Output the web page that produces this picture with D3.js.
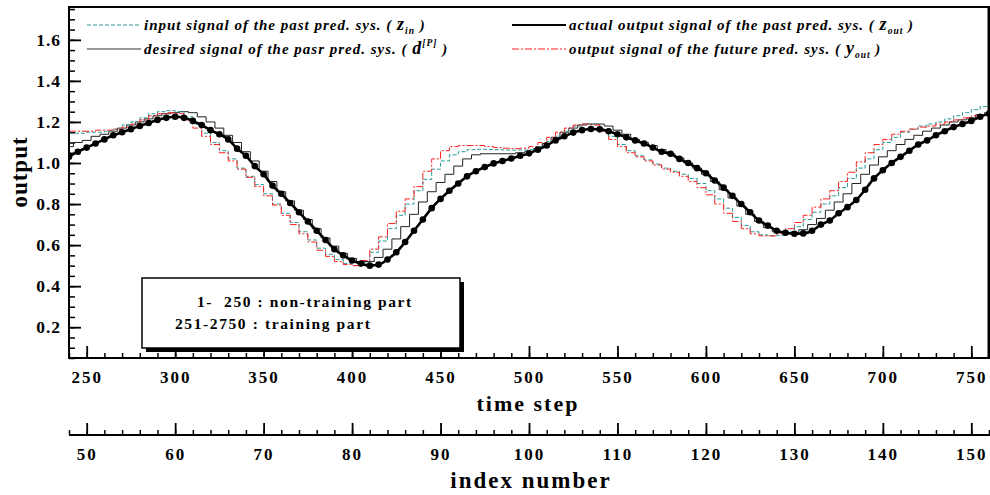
<!DOCTYPE html>
<html>
<head>
<meta charset="utf-8">
<script src="https://cdn.jsdelivr.net/npm/d3@7"></script>
<style>
  body { margin: 0; background: #fff; }
  svg { display: block; }
  text { font-family: "Liberation Serif", "Times New Roman", serif; font-weight: bold; }
</style>
</head>
<body>
<div id="chart"></div>
<script>
// chart size
var width = 990,
    height = 495;

// plot area edges
var plotLeft = 69, plotRight = 989, plotTop = 7, plotBottom = 358;

// time steps (one sample per index number)
var timeSteps = d3.range(240, 761, 5);

// input signal of the past pred. sys. (z_in)
var zIn = [1.145, 1.145, 1.15, 1.15, 1.155, 1.165, 1.185, 1.2, 1.22, 1.24,
  1.25, 1.255, 1.25, 1.225, 1.19, 1.145, 1.1, 1.06, 1.02, 0.975,
  0.935, 0.895, 0.85, 0.8, 0.755, 0.71, 0.665, 0.625, 0.585, 0.555,
  0.53, 0.51, 0.5, 0.515, 0.565, 0.62, 0.68, 0.745, 0.8, 0.865,
  0.92, 0.97, 1.01, 1.04, 1.055, 1.065, 1.067, 1.066, 1.065, 1.063,
  1.063, 1.063, 1.065, 1.08, 1.105, 1.13, 1.155, 1.18, 1.19, 1.19,
  1.165, 1.13, 1.09, 1.06, 1.035, 1.015, 0.995, 0.975, 0.96, 0.945,
  0.925, 0.9, 0.865, 0.825, 0.78, 0.735, 0.695, 0.665, 0.65, 0.645,
  0.648, 0.665, 0.69, 0.725, 0.76, 0.8, 0.84, 0.88, 0.925, 0.975,
  1.02, 1.065, 1.1, 1.125, 1.15, 1.165, 1.18, 1.19, 1.2, 1.215,
  1.23, 1.245, 1.26, 1.275, 1.29];

// desired signal of the past pred. sys. (d[P])
var dP = [1.08, 1.10, 1.11, 1.13, 1.14, 1.155, 1.17, 1.185, 1.2, 1.215,
  1.23, 1.24, 1.245, 1.25, 1.245, 1.225, 1.2, 1.17, 1.135, 1.1,
  1.055, 1.01, 0.96, 0.91, 0.86, 0.815, 0.77, 0.725, 0.68, 0.635,
  0.595, 0.56, 0.535, 0.52, 0.52, 0.54, 0.58, 0.63, 0.69, 0.75,
  0.81, 0.86, 0.905, 0.945, 0.985, 1.02, 1.04, 1.045, 1.045, 1.045,
  1.045, 1.05, 1.055, 1.07, 1.095, 1.125, 1.15, 1.17, 1.185, 1.19,
  1.19, 1.18, 1.16, 1.14, 1.115, 1.1, 1.085, 1.065, 1.045, 1.025,
  1.0, 0.975, 0.945, 0.91, 0.87, 0.83, 0.79, 0.75, 0.715, 0.685,
  0.665, 0.66, 0.66, 0.675, 0.7, 0.73, 0.77, 0.81, 0.85, 0.9,
  0.945, 0.99, 1.03, 1.06, 1.09, 1.115, 1.135, 1.155, 1.17, 1.185,
  1.2, 1.21, 1.22, 1.235, 1.245];

// actual output signal of the past pred. sys. (z_out)
var zOut = [1.03, 1.055, 1.075, 1.095, 1.115, 1.135, 1.15, 1.165, 1.18, 1.195,
  1.21, 1.22, 1.225, 1.22, 1.205, 1.185, 1.16, 1.14, 1.115, 1.07,
  1.035, 0.985, 0.945, 0.89, 0.85, 0.805, 0.76, 0.715, 0.67, 0.625,
  0.58, 0.55, 0.525, 0.51, 0.5, 0.505, 0.53, 0.565, 0.615, 0.67,
  0.725, 0.78, 0.825, 0.865, 0.9, 0.935, 0.96, 0.98, 0.998, 1.01,
  1.022, 1.035, 1.047, 1.065, 1.085, 1.11, 1.13, 1.148, 1.16, 1.166,
  1.164, 1.155, 1.14, 1.125, 1.11, 1.095, 1.075, 1.055, 1.045, 1.02,
  1.0, 0.975, 0.95, 0.915, 0.88, 0.84, 0.8, 0.76, 0.72, 0.695,
  0.67, 0.66, 0.655, 0.657, 0.67, 0.7, 0.72, 0.755, 0.785, 0.82,
  0.87, 0.925, 0.965, 1.0, 1.03, 1.06, 1.09, 1.11, 1.135, 1.155,
  1.175, 1.19, 1.205, 1.225, 1.24];

// output signal of the future pred. sys. (y_out)
var yOut = [1.155, 1.155, 1.155, 1.16, 1.16, 1.165, 1.175, 1.19, 1.21, 1.23,
  1.24, 1.245, 1.24, 1.21, 1.17, 1.13, 1.09, 1.05, 1.01, 0.97,
  0.93, 0.885, 0.84, 0.795, 0.745, 0.7, 0.655, 0.615, 0.575, 0.545,
  0.52, 0.505, 0.5, 0.525, 0.58, 0.64, 0.705, 0.765, 0.825, 0.885,
  0.96, 1.02, 1.06, 1.08, 1.085, 1.085, 1.085, 1.08, 1.075, 1.072,
  1.07, 1.072, 1.08, 1.1, 1.125, 1.15, 1.17, 1.185, 1.19, 1.185,
  1.155, 1.115, 1.08, 1.05, 1.03, 1.01, 0.99, 0.97, 0.955, 0.935,
  0.91, 0.88, 0.845, 0.8, 0.755, 0.715, 0.68, 0.655, 0.645, 0.645,
  0.655, 0.68, 0.71, 0.745, 0.785, 0.825, 0.865, 0.91, 0.955, 1.005,
  1.05, 1.09, 1.115, 1.14, 1.155, 1.165, 1.175, 1.18, 1.19, 1.2,
  1.21, 1.22, 1.23, 1.235, 1.24];

// tick values
var yTicks = [0.2, 0.4, 0.6, 0.8, 1.0, 1.2, 1.4, 1.6];
var timeTicks = [250, 300, 350, 400, 450, 500, 550, 600, 650, 700, 750];
var indexTicks = [50, 60, 70, 80, 90, 100, 110, 120, 130, 140, 150];

var boxLines = ["1-  250 : non-training part", "251-2750 : training part"];

var svg = d3.select("#chart").append("svg")
    .attr("width", width)
    .attr("height", height);

// scales
var x = d3.scaleLinear().domain([240, 760]).range([plotLeft, plotRight]);
var xIndex = d3.scaleLinear().domain([48, 152]).range([plotLeft, plotRight]);
var y = d3.scaleLinear().domain([0.05, 1.76]).range([plotBottom, plotTop]);

svg.append("clipPath").attr("id", "clip")
  .append("rect")
    .attr("x", plotLeft).attr("y", plotTop)
    .attr("width", plotRight - plotLeft).attr("height", plotBottom - plotTop);

// ---- axes ----
function tickLabels(g, size) {
  g.selectAll("text")
    .attr("font-size", size)
    .attr("letter-spacing", "2px")
    .attr("fill", "#000");
}

// y axis (inward ticks)
var yMajor = svg.append("g")
    .attr("transform", "translate(" + plotLeft + ",0)")
    .call(d3.axisRight(y).tickValues(yTicks).tickSize(12).tickFormat(d3.format(".1f")));
yMajor.select(".domain").remove();
yMajor.selectAll("line").attr("stroke-width", 1.8);
yMajor.selectAll("text")
    .attr("x", -8)
    .attr("text-anchor", "end")
    .attr("font-size", 17.5)
    .attr("letter-spacing", "1px");
svg.append("g")
    .attr("transform", "translate(" + plotLeft + ",0)")
    .call(d3.axisRight(y).tickValues(d3.range(0.05, 1.76, 0.05)).tickSize(6).tickFormat(""))
  .call(function(g) { g.select(".domain").remove(); g.selectAll("line").attr("stroke-width", 1.5); });

// time step axis (ticks point up into the plot)
var xMajor = svg.append("g")
    .attr("transform", "translate(0," + plotBottom + ")")
    .call(d3.axisTop(x).tickValues(timeTicks).tickSize(12));
xMajor.select(".domain").remove();
xMajor.selectAll("line").attr("stroke-width", 1.8);
xMajor.selectAll("text").attr("y", 25).attr("dy", 0);
tickLabels(xMajor, 17);
svg.append("g")
    .attr("transform", "translate(0," + plotBottom + ")")
    .call(d3.axisTop(x).tickValues(d3.range(240, 761, 10)).tickSize(5).tickFormat(""))
  .call(function(g) { g.select(".domain").remove(); g.selectAll("line").attr("stroke-width", 1.5); });

// index number axis
var indexY = 435;
var iMajor = svg.append("g")
    .attr("transform", "translate(0," + indexY + ")")
    .call(d3.axisTop(xIndex).tickValues(indexTicks).tickSize(12));
iMajor.select(".domain").remove();
iMajor.selectAll("line").attr("stroke-width", 1.8);
iMajor.selectAll("text").attr("y", 25).attr("dy", 0);
tickLabels(iMajor, 17);
svg.append("g")
    .attr("transform", "translate(0," + indexY + ")")
    .call(d3.axisTop(xIndex).tickValues(d3.range(48, 153, 2)).tickSize(5).tickFormat(""))
  .call(function(g) { g.select(".domain").remove(); g.selectAll("line").attr("stroke-width", 1.5); });
svg.append("line")
    .attr("x1", plotLeft).attr("x2", width)
    .attr("y1", indexY).attr("y2", indexY)
    .attr("stroke", "#000").attr("stroke-width", 2);

// axis titles
svg.append("text")
    .attr("x", 528).attr("y", 411)
    .attr("text-anchor", "middle")
    .attr("font-size", 22)
    .attr("letter-spacing", "2px")
    .text("time step");
svg.append("text")
    .attr("x", 531).attr("y", 488)
    .attr("text-anchor", "middle")
    .attr("font-size", 23)
    .attr("letter-spacing", "2px")
    .text("index number");
svg.append("text")
    .attr("transform", "translate(27,172) rotate(-90)")
    .attr("text-anchor", "middle")
    .attr("font-size", 23)
    .attr("letter-spacing", "1px")
    .text("output");

// ---- series ----
var plot = svg.append("g").attr("clip-path", "url(#clip)");

function line(values, curve) {
  return d3.line()
    .x(function(d, i) { return x(timeSteps[i]); })
    .y(function(d) { return y(d); })
    .curve(curve)(values);
}

plot.append("path")
    .attr("d", line(dP, d3.curveStep))
    .attr("fill", "none")
    .attr("stroke", "#222")
    .attr("stroke-width", 1);

plot.append("path")
    .attr("d", line(zIn, d3.curveStepAfter))
    .attr("fill", "none")
    .attr("stroke", "#2a9a9a")
    .attr("stroke-width", 1)
    .attr("stroke-dasharray", "4,2");

plot.append("path")
    .attr("d", line(yOut, d3.curveStepAfter))
    .attr("fill", "none")
    .attr("stroke", "#ff2020")
    .attr("stroke-width", 1)
    .attr("stroke-dasharray", "7,2,2,2");

plot.append("path")
    .attr("d", line(zOut, d3.curveMonotoneX))
    .attr("fill", "none")
    .attr("stroke", "#000")
    .attr("stroke-width", 2.6);

plot.selectAll("circle")
    .data(zOut)
  .enter().append("circle")
    .attr("cx", function(d, i) { return x(timeSteps[i]); })
    .attr("cy", function(d) { return y(d); })
    .attr("r", 3.3)
    .attr("fill", "#000");

// plot frame
svg.append("rect")
    .attr("x", plotLeft).attr("y", plotTop)
    .attr("width", plotRight - plotLeft).attr("height", plotBottom - plotTop)
    .attr("fill", "none")
    .attr("stroke", "#000")
    .attr("stroke-width", 2);
svg.append("line")
    .attr("x1", plotRight).attr("x2", plotRight)
    .attr("y1", plotTop).attr("y2", plotBottom)
    .attr("stroke", "#000").attr("stroke-width", 3);

// ---- legend ----
var legend = [
  {x: 87, y: 25, stroke: "#2a9a9a", dash: "4,2", w: 1, label: "input signal of the past pred. sys.", sym: "z", sub: "in"},
  {x: 87, y: 49, stroke: "#333", dash: null, w: 1, label: "desired signal of the pasr pred. sys.", sym: "d", sup: "[P]"},
  {x: 512, y: 25, stroke: "#000", dash: null, w: 2.2, label: "actual output signal of the past pred. sys.", sym: "z", sub: "out"},
  {x: 512, y: 49, stroke: "#ff2020", dash: "7,2,2,2", w: 1, label: "output signal of the future pred. sys.", sym: "y", sub: "out"}
];

legend.forEach(function(l) {
  svg.append("line")
      .attr("x1", l.x).attr("x2", l.x + 54)
      .attr("y1", l.y).attr("y2", l.y)
      .attr("stroke", l.stroke)
      .attr("stroke-width", l.w)
      .attr("stroke-dasharray", l.dash);
  var t = svg.append("text")
      .attr("x", l.x + 57).attr("y", l.y + 5)
      .attr("font-size", 15)
      .attr("font-style", "italic")
      .attr("letter-spacing", "1px");
  t.append("tspan").text(l.label + " ( ");
  t.append("tspan").attr("font-size", 18).text(l.sym);
  if (l.sub) t.append("tspan").attr("font-size", 9.5).attr("dy", 4).text(l.sub);
  if (l.sup) t.append("tspan").attr("font-size", 9.5).attr("dy", -8).text(l.sup);
  t.append("tspan").attr("dy", l.sub ? -4 : 8).text(" )");
});

// ---- note box ----
svg.append("rect")
    .attr("x", 146).attr("y", 282)
    .attr("width", 318).attr("height", 70)
    .attr("fill", "#000");
svg.append("rect")
    .attr("x", 142).attr("y", 278)
    .attr("width", 318).attr("height", 70)
    .attr("fill", "#fff")
    .attr("stroke", "#000")
    .attr("stroke-width", 1.5);
svg.append("text")
    .attr("x", 197).attr("y", 307)
    .attr("font-size", 15.5)
    .attr("letter-spacing", "1.6px")
    .attr("xml:space", "preserve")
    .style("white-space", "pre")
    .text(boxLines[0]);
svg.append("text")
    .attr("x", 175).attr("y", 329)
    .attr("font-size", 15.5)
    .attr("letter-spacing", "1.6px")
    .text(boxLines[1]);
</script>
</body>
</html>
